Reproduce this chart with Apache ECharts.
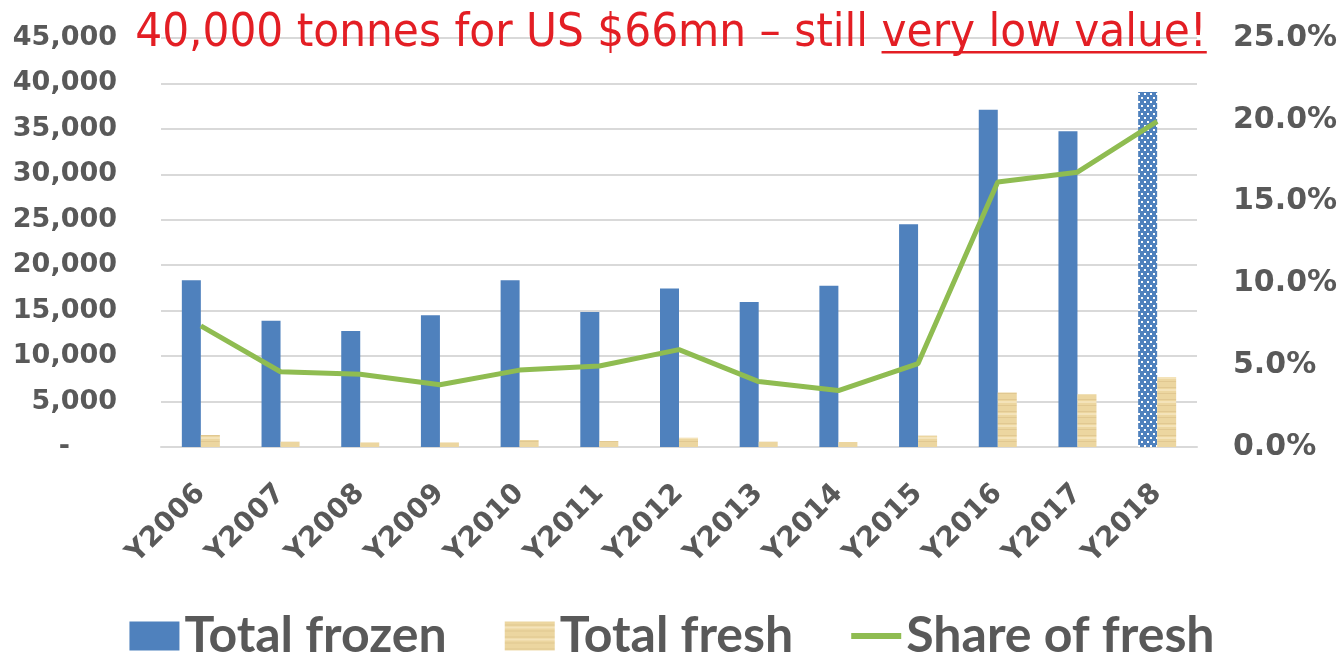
<!DOCTYPE html>
<html>
<head>
<meta charset="utf-8">
<script src="https://cdn.jsdelivr.net/npm/echarts@6/dist/echarts.min.js"></script>
<style>
  html, body { margin: 0; padding: 0; background: #fff; }
  #chart { width: 1344px; height: 655px; }
</style>
</head>
<body>
<div id="chart"></div>
<script>
// data
const years = ['Y2006', 'Y2007', 'Y2008', 'Y2009', 'Y2010', 'Y2011', 'Y2012',
  'Y2013', 'Y2014', 'Y2015', 'Y2016', 'Y2017', 'Y2018'];
const totalFrozen = [18350, 13900, 12750, 14500, 18350, 14850, 17450, 15950, 17750, 24500, 37100, 34750, 39050];
const totalFresh = [1320, 580, 500, 500, 770, 660, 1030, 580, 550, 1250, 6000, 5800, 7700];
const shareFresh = [7.4, 4.6, 4.45, 3.8, 4.7, 4.95, 5.95, 4.0, 3.45, 5.1, 16.2, 16.8, 19.9];
const titleMain = '40,000 tonnes for US $66mn \u2013 still ';
const titleUnder = 'very low value!';

const GREY = '#595959';
const BLUE = '#4f81bd';
const GREEN = '#8fbc51';
const RED = '#e31e24';

// textures
function dotPattern() {
  const c = document.createElement('canvas');
  c.width = 6; c.height = 8;
  const g = c.getContext('2d');
  g.fillStyle = BLUE; g.fillRect(0, 0, 6, 8);
  g.fillStyle = '#fff';
  g.fillRect(1, 1, 2, 2);
  g.fillRect(4, 5, 2, 2);
  return { image: c, repeat: 'repeat' };
}
function paperPattern() {
  const c = document.createElement('canvas');
  c.width = 20; c.height = 12;
  const g = c.getContext('2d');
  g.fillStyle = '#ecd6a0'; g.fillRect(0, 0, 20, 12);
  g.fillStyle = 'rgba(190,160,100,0.25)';
  g.fillRect(0, 3, 20, 1); g.fillRect(0, 9, 20, 1);
  g.fillStyle = 'rgba(255,245,215,0.45)';
  g.fillRect(0, 5, 20, 2);
  return { image: c, repeat: 'repeat' };
}

// title sizing, fit to the width seen in the picture
const titleFamily = '"DejaVu Sans Condensed", "DejaVu Sans", sans-serif';
const mctx = document.createElement('canvas').getContext('2d');
function textW(s, size) { mctx.font = size + 'px ' + titleFamily; return mctx.measureText(s).width; }
const titleSize = 40 * 1072 / textW(titleMain + titleUnder, 40);
const w1 = textW(titleMain, titleSize);
const w2 = textW(titleUnder, titleSize);
const tx = 671 - (w1 + w2) / 2;
const tTop = 47 - titleSize * 0.93 + 7;

const chart = echarts.init(document.getElementById('chart'));

chart.setOption({
  backgroundColor: '#fff',
  animation: false,
  grid: { left: 161, right: 147, top: 38, bottom: 208 },
  legend: {
    data: [
      { name: 'Total frozen', icon: 'rect' },
      { name: 'Total fresh', icon: 'rect' },
      { name: 'Share of fresh', icon: 'path://M0,0h50v6h-50z' }
    ],
    left: 'center',
    top: 606,
    itemWidth: 50,
    itemHeight: 29,
    itemGap: 58,
    textStyle: { fontFamily: 'Lato', fontWeight: 'bold', fontSize: 50, color: GREY }
  },
  xAxis: {
    type: 'category',
    data: years,
    axisLine: { lineStyle: { color: '#d9d9d9', width: 2 } },
    axisTick: { show: false },
    axisLabel: {
      rotate: 45,
      margin: 42,
      interval: 0,
      fontFamily: 'DejaVu Sans',
      fontWeight: 'bold',
      fontSize: 28,
      color: GREY
    }
  },
  yAxis: [
    {
      type: 'value',
      min: 0, max: 45000, interval: 5000,
      axisLine: { show: false },
      axisTick: { show: false },
      splitLine: { lineStyle: { color: '#d9d9d9', width: 2 } },
      axisLabel: {
        margin: 44,
        fontFamily: 'DejaVu Sans',
        fontWeight: 'bold',
        fontSize: 27,
        color: GREY,
        formatter: v => v === 0 ? '{z|-}' : v.toLocaleString('en-US'),
        rich: {
          z: { fontFamily: 'DejaVu Sans', fontWeight: 'bold', fontSize: 27, color: GREY, padding: [0, 47, 0, 0] }
        }
      }
    },
    {
      type: 'value',
      min: 0, max: 25, interval: 5,
      axisLine: { show: false },
      axisTick: { show: false },
      splitLine: { show: false },
      axisLabel: {
        margin: 36,
        fontFamily: 'DejaVu Sans',
        fontWeight: 'bold',
        fontSize: 30,
        color: GREY,
        formatter: v => v.toFixed(1) + '%'
      }
    }
  ],
  series: [
    {
      name: 'Total frozen',
      type: 'bar',
      barWidth: 19,
      barGap: '0%',
      itemStyle: { color: BLUE },
      data: totalFrozen.map((v, i) => i === totalFrozen.length - 1
        ? { value: v, itemStyle: { color: dotPattern() } } : v)
    },
    {
      name: 'Total fresh',
      type: 'bar',
      barWidth: 19,
      barGap: '0%',
      itemStyle: { color: paperPattern() },
      data: totalFresh
    },
    {
      name: 'Share of fresh',
      type: 'line',
      yAxisIndex: 1,
      symbol: 'none',
      lineStyle: { color: GREEN, width: 5 },
      itemStyle: { color: GREEN },
      data: shareFresh,
      z: 5
    }
  ],
  graphic: [
    {
      type: 'text', left: tx, top: tTop, z: 100,
      style: { text: titleMain, font: titleSize + 'px ' + titleFamily, fill: RED }
    },
    {
      type: 'text', left: tx + w1, top: tTop, z: 100,
      style: { text: titleUnder, font: titleSize + 'px ' + titleFamily, fill: RED }
    },
    {
      type: 'rect', z: 100,
      shape: { x: tx + w1, y: 51, width: w2, height: 2.5 },
      style: { fill: RED }
    }
  ]
});
</script>
</body>
</html>
